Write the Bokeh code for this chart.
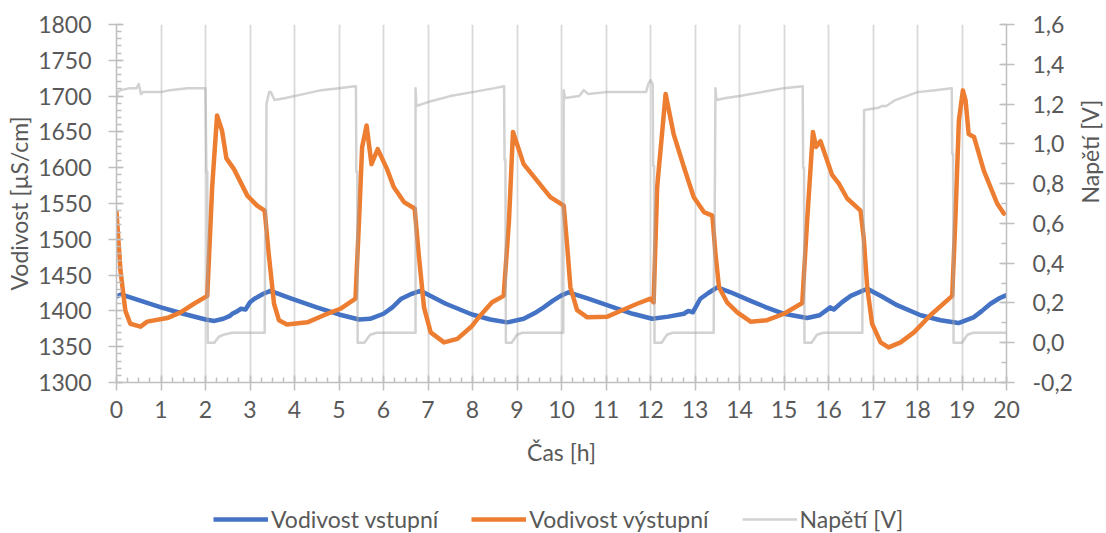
import math
from bokeh.plotting import figure
from bokeh.layouts import column
from bokeh.models import (Range1d, LinearAxis, SingleIntervalTicker, CustomJSTickFormatter,
                          Legend, LegendItem)
from bokeh.embed import file_html
from bokeh.resources import INLINE

# ---------------- data ----------------
t_in = [0.0, 0.1, 0.5, 1.0, 1.5, 2.0, 2.2, 2.4, 2.55, 2.6, 2.7, 2.8, 2.9, 3.0, 3.1, 3.3, 3.46,
        3.9, 4.5, 5.0, 5.45, 5.7, 6.0, 6.2, 6.4, 6.6, 6.83, 7.4, 7.99, 8.4, 8.78, 9.15, 9.4,
        9.6, 9.8, 9.98, 10.16, 10.6, 11.17, 11.6, 12.04, 12.4, 12.75, 12.85, 12.95, 13.12, 13.3,
        13.5, 13.8, 14.25, 14.6, 15.0, 15.52, 15.8, 16.04, 16.12, 16.3, 16.5, 16.87, 17.2, 17.54,
        18.07, 18.52, 18.92, 19.26, 19.45, 19.64, 19.85, 20.0]
vodivost_vstupni = [1420, 1423, 1415, 1405, 1396, 1388, 1386, 1389, 1393, 1396, 1399, 1403, 1402,
                    1412, 1417, 1424, 1428, 1418, 1405, 1395, 1388, 1389, 1396, 1405, 1417, 1423,
                    1428, 1410, 1395, 1388, 1384, 1389, 1397, 1405, 1414, 1421, 1426, 1417, 1405,
                    1396, 1389, 1392, 1396, 1400, 1398, 1417, 1425, 1433, 1426, 1414, 1405, 1396,
                    1390, 1394, 1405, 1402, 1412, 1421, 1431, 1420, 1408, 1394, 1387, 1383, 1391,
                    1400, 1410, 1418, 1422]

t_out = [0.0, 0.09, 0.2, 0.31, 0.54, 0.69, 1.14, 1.44, 1.74, 2.04, 2.15, 2.26, 2.37, 2.47, 2.64,
         2.94, 3.16, 3.33, 3.42, 3.54, 3.65, 3.83, 4.29, 4.66, 5.03, 5.37, 5.45, 5.52, 5.62, 5.73,
         5.87, 6.08, 6.23, 6.46, 6.7, 6.79, 6.91, 7.06, 7.36, 7.66, 7.99, 8.18, 8.44, 8.7, 8.82,
         8.91, 9.15, 9.45, 9.75, 10.05, 10.13, 10.2, 10.35, 10.58, 11.03, 11.4, 11.7, 12.0, 12.07,
         12.15, 12.34, 12.52, 12.75, 12.97, 13.2, 13.39, 13.46, 13.54, 13.72, 13.95, 14.25, 14.62,
         15.0, 15.41, 15.52, 15.65, 15.72, 15.82, 16.08, 16.23, 16.42, 16.72, 16.79, 16.87, 16.98,
         17.17, 17.35, 17.62, 17.92, 18.29, 18.78, 18.85, 18.93, 19.02, 19.08, 19.15, 19.27,
         19.49, 19.79, 19.94]
vodivost_vystupni = [1538, 1456, 1400, 1382, 1378, 1385, 1390, 1398, 1410, 1421, 1573, 1673, 1652,
                     1613, 1598, 1561, 1547, 1540, 1480, 1410, 1387, 1381, 1384, 1394, 1403, 1417,
                     1526, 1629, 1659, 1605, 1626, 1598, 1573, 1552, 1543, 1480, 1405, 1370, 1356,
                     1361, 1379, 1394, 1412, 1421, 1526, 1650, 1605, 1582, 1559, 1547, 1489, 1433,
                     1401, 1391, 1392, 1402, 1410, 1417, 1412, 1573, 1703, 1647, 1601, 1559, 1538,
                     1533, 1480, 1433, 1412, 1398, 1385, 1387, 1396, 1411, 1526, 1650, 1629, 1637,
                     1590, 1578, 1557, 1540, 1503, 1433, 1382, 1356, 1349, 1356, 1370, 1394, 1421,
                     1526, 1666, 1708, 1694, 1647, 1643, 1596, 1550, 1536]

t_v = [0.0, 0.02, 0.1, 0.3, 0.45, 0.5, 0.55, 0.6, 1.0, 1.2, 1.6, 2.0,
       2.02, 2.04, 2.05, 2.2, 2.3, 2.4, 2.6, 3.33, 3.34, 3.36, 3.37, 3.43, 3.47, 3.55, 3.8, 4.2,
       4.6, 5.0, 5.35, 5.38,
       5.39, 5.41, 5.42, 5.57, 5.7, 5.85, 6.72, 6.72, 6.74, 7.0, 7.5, 8.0, 8.5, 8.71,
       8.72, 8.74, 8.75, 8.88, 9.0, 9.12, 10.04, 10.05, 10.08, 10.4, 10.5, 10.6, 11.0, 11.5,
       11.9, 11.95, 12.0, 12.05,
       12.06, 12.08, 12.09, 12.25, 12.37, 12.5, 13.42, 13.43, 13.44, 13.46, 13.48, 13.7, 14.0,
       14.5, 15.0, 15.42,
       15.43, 15.45, 15.46, 15.62, 15.74, 15.88, 16.76, 16.77, 16.79, 16.8, 17.1, 17.2, 17.3,
       17.5, 18.0, 18.4, 18.77,
       18.78, 18.8, 18.81, 19.0, 19.12, 19.25, 20.0]
napeti = [1.20, 1.26, 1.27, 1.28, 1.28, 1.30, 1.25, 1.26, 1.26, 1.27, 1.28, 1.28,
          0.86, 0.86, 0.0, 0.0, 0.03, 0.04, 0.05, 0.05, 0.54, 0.55, 1.20, 1.26, 1.26, 1.22, 1.23,
          1.25, 1.27, 1.28, 1.29, 1.29,
          0.86, 0.86, 0.0, 0.0, 0.04, 0.05, 0.05, 1.28, 1.19, 1.21, 1.24, 1.26, 1.28, 1.29,
          0.92, 0.92, 0.0, 0.0, 0.04, 0.05, 0.05, 1.27, 1.23, 1.24, 1.27, 1.25, 1.26, 1.26,
          1.26, 1.30, 1.32, 1.30,
          0.89, 0.89, 0.0, 0.0, 0.04, 0.05, 0.05, 0.55, 0.56, 1.28, 1.22, 1.23, 1.24,
          1.26, 1.28, 1.29,
          0.88, 0.88, 0.0, 0.0, 0.04, 0.05, 0.05, 0.49, 0.50, 1.17, 1.18, 1.19, 1.19,
          1.22, 1.26, 1.27, 1.28,
          0.95, 0.95, 0.0, 0.0, 0.04, 0.05, 0.05]

series_labels = ["Vodivost vstupní", "Vodivost výstupní", "Napětí [V]"]

# ---------------- styling ----------------
FONT = "Lato"
TXT = "#595959"
AX = "#bfbfbf"
C_IN, C_OUT, C_V = "#4472C4", "#ED7D31", "#A5A5A5"

p = figure(frame_width=890, frame_height=358,
           x_range=Range1d(0, 20), y_range=Range1d(1300, 1800),
           output_backend="svg", toolbar_location=None,
           min_border_left=116, min_border_right=98, min_border_top=24, min_border_bottom=96,
           outline_line_color=None, background_fill_color="white", border_fill_color="white")
p.extra_y_ranges = {"v": Range1d(-0.2, 1.6)}

p.xaxis.ticker = SingleIntervalTicker(interval=1, num_minor_ticks=4)
p.yaxis.ticker = SingleIntervalTicker(interval=50, num_minor_ticks=5)

raxis = LinearAxis(y_range_name="v",
                   ticker=SingleIntervalTicker(interval=0.2, num_minor_ticks=2),
                   formatter=CustomJSTickFormatter(code="""
                       if (Math.abs(tick) < 1e-9) { return '0,0'; }
                       return tick.toFixed(1).replace('.', ',');
                   """))
p.add_layout(raxis, "right")

p.xaxis.axis_label = "Čas [h]"
p.yaxis.axis_label = "Vodivost [µS/cm]"
raxis.axis_label = "Napětí [V]"
raxis.axis_label_orientation = math.pi / 2

for ax in [p.xaxis[0], p.yaxis[0], raxis]:
    ax.axis_line_color = AX
    ax.axis_line_width = 1.5
    ax.major_tick_line_color = AX
    ax.major_tick_line_width = 1.5
    ax.minor_tick_line_color = AX
    ax.minor_tick_line_width = 1.5
    ax.major_tick_in = 7
    ax.major_tick_out = 8
    ax.minor_tick_in = 5
    ax.minor_tick_out = 0
    ax.major_label_text_font = FONT
    ax.major_label_text_font_size = "23px"
    ax.major_label_text_color = TXT
    ax.axis_label_text_font = FONT
    ax.axis_label_text_font_size = "23px"
    ax.axis_label_text_font_style = "normal"
    ax.axis_label_text_color = TXT

p.xaxis.major_label_standoff = 10
p.xaxis.axis_label_standoff = 17
p.yaxis.major_label_standoff = 17
p.yaxis.axis_label_standoff = 2
raxis.major_label_standoff = 18
raxis.axis_label_standoff = 14

p.xgrid.grid_line_color = "#d9d9d9"
p.xgrid.grid_line_width = 1.8
p.ygrid.grid_line_color = None

p.line(t_in, vodivost_vstupni, line_color=C_IN, line_width=4.5,
       line_join="round", line_cap="round")
p.line(t_out, vodivost_vystupni, line_color=C_OUT, line_width=4.5,
       line_join="round", line_cap="round")
p.line(t_v, napeti, y_range_name="v", line_color=C_V, line_alpha=0.5,
       line_width=2.5, line_join="round")

# ---------------- legend strip ----------------
# the same series are attached here only to feed the legend; this strip's ranges keep them out of view
lg = figure(width=1104, height=55, x_range=Range1d(0, 1), y_range=Range1d(0, 1),
            x_axis_type=None, y_axis_type=None,
            output_backend="svg", toolbar_location=None, min_border=0,
            outline_line_color=None, background_fill_color="white", border_fill_color="white")
lg.grid.visible = False
k_in = lg.line(t_in, vodivost_vstupni, line_color=C_IN, line_width=4.5)
k_out = lg.line(t_out, vodivost_vystupni, line_color=C_OUT, line_width=4.5)
k_v = lg.line(t_v, [v + 5 for v in napeti], line_color=C_V, line_alpha=0.5, line_width=2.5)

legend = Legend(items=[LegendItem(label=series_labels[0], renderers=[k_in]),
                       LegendItem(label=series_labels[1], renderers=[k_out]),
                       LegendItem(label=series_labels[2], renderers=[k_v])],
                orientation="horizontal", location=(97, 0),
                border_line_color=None, background_fill_alpha=0,
                label_text_font=FONT, label_text_font_size="23px", label_text_color=TXT,
                glyph_width=55, glyph_height=20, label_standoff=3, spacing=33,
                margin=0, padding=0)
lg.add_layout(legend, "center")

layout = column(p, lg, spacing=0)
open("out.html", "w").write(file_html(layout, INLINE))
